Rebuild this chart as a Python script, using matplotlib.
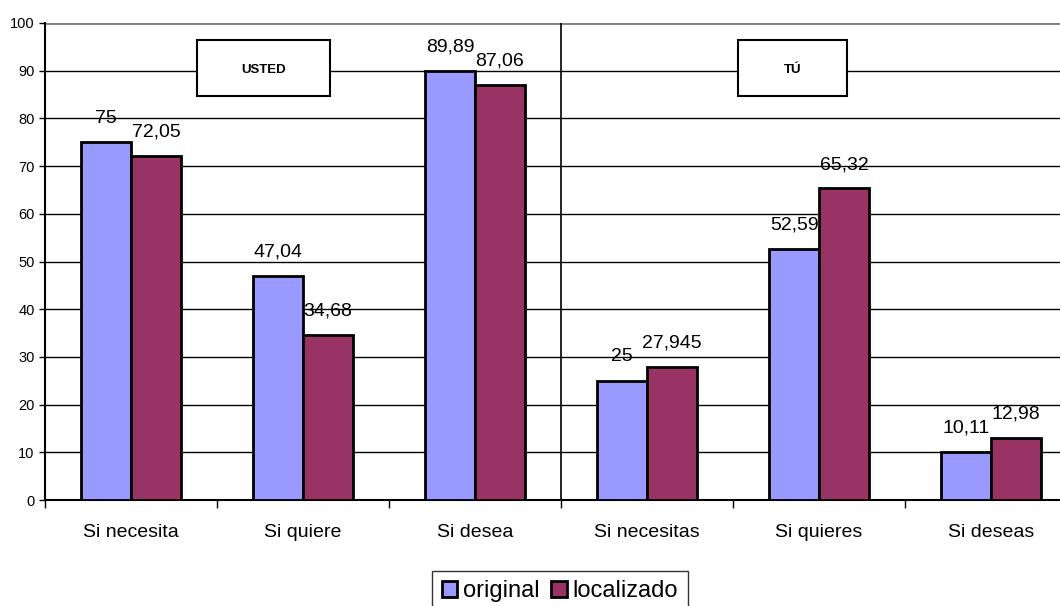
import matplotlib.pyplot as plt
import numpy as np

plt.rcParams['font.family'] = ['Liberation Sans', 'DejaVu Sans']

categories = ['Si necesita', 'Si quiere', 'Si desea', 'Si necesitas', 'Si quieres', 'Si deseas']
original = [75, 47.04, 89.89, 25, 52.59, 10.11]
localizado = [72.05, 34.68, 87.06, 27.945, 65.32, 12.98]
original_labels = ['75', '47,04', '89,89', '25', '52,59', '10,11']
localizado_labels = ['72,05', '34,68', '87,06', '27,945', '65,32', '12,98']

fig = plt.figure(figsize=(10.6, 6.06), dpi=100)
# plot area runs past the right edge of the figure
ax = fig.add_axes([45 / 1060, 1 - 500 / 606, 1032 / 1060, 477 / 606])

x = np.arange(len(categories))
w = 0.29
ax.bar(x - w / 2, original, w, color='#9999ff', edgecolor='black', linewidth=2,
       label='original', zorder=3)
ax.bar(x + w / 2, localizado, w, color='#993366', edgecolor='black', linewidth=2,
       label='localizado', zorder=3)

for i in range(len(categories)):
    ax.text(x[i] - w / 2, original[i] + 5, original_labels[i], ha='center',
            va='center', fontsize=14, zorder=4)
    ax.text(x[i] + w / 2, localizado[i] + 5, localizado_labels[i], ha='center',
            va='center', fontsize=14, zorder=4)

ax.set_xlim(-0.5, 5.5)
ax.set_ylim(0, 100)
ax.set_yticks(range(0, 101, 10))
ax.yaxis.grid(True, color='black', linewidth=1)
ax.set_axisbelow(True)
ax.tick_params(axis='y', labelsize=10.5, length=4, width=1)

ax.set_xticks(x)
ax.set_xticklabels(categories, fontsize=14)
ax.tick_params(axis='x', length=0, pad=17)
ax.set_xticks(np.arange(-0.5, 6, 1), minor=True)
ax.tick_params(axis='x', which='minor', length=6, width=1, direction='out')

for s in ['top', 'right']:
    ax.spines[s].set_visible(False)
ax.spines['left'].set_linewidth(1.5)
ax.spines['bottom'].set_linewidth(1.5)
ax.axhline(100, color='#808080', linewidth=2, zorder=2)
ax.axvline(2.5, color='black', linewidth=1.2, zorder=2)

# section boxes
for x0, x1, t in [(0.384, 1.157, 'USTED'), (3.53, 4.16, 'TÚ')]:
    ax.add_patch(plt.Rectangle((x0, 84.6), x1 - x0, 11.8, facecolor='white',
                               edgecolor='black', linewidth=1.5, zorder=5))
    ax.text((x0 + x1) / 2, 90.2, t, ha='center', va='center', fontsize=9.5,
            fontweight='bold', zorder=6)

leg = fig.legend(loc='upper center', bbox_to_anchor=(560 / 1060, 1 - 571 / 606),
                 ncol=2, fontsize=17, frameon=True, fancybox=False,
                 edgecolor='black', handlelength=0.65, handleheight=0.65,
                 handletextpad=0.25, columnspacing=0.5, borderpad=0.4,
                 borderaxespad=0)
leg.get_frame().set_linewidth(1)
for h in leg.legend_handles:
    h.set_linewidth(2)

fig.savefig('out.png', dpi=100)
